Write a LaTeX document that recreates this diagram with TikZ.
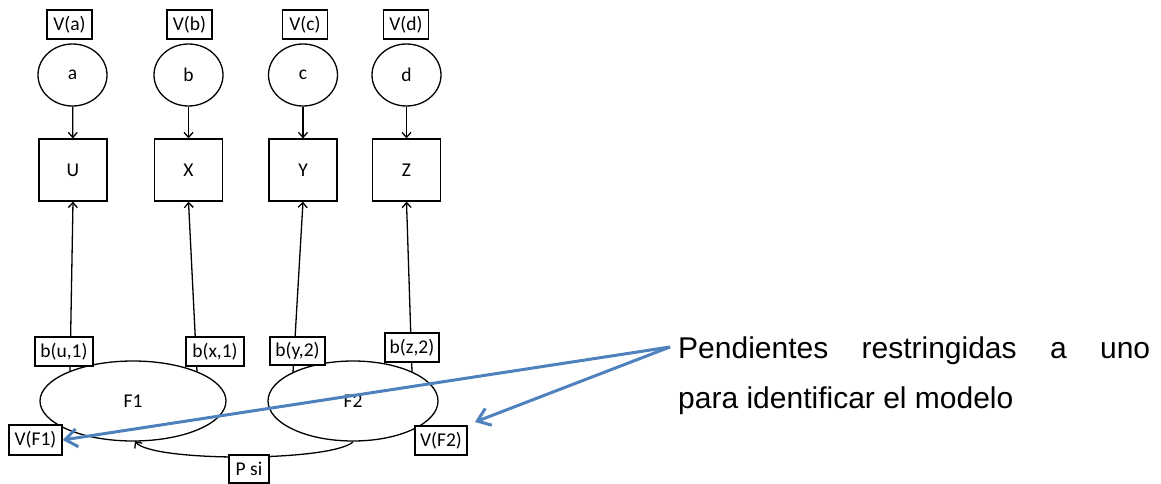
\documentclass[tikz,border=0pt]{standalone}
\usepackage{fontspec}
\setmainfont{Carlito}
\newfontfamily\notefont{Liberation Sans}
\usetikzlibrary{shapes.geometric,arrows.meta}
\definecolor{noteblue}{HTML}{4F81BD}
\begin{document}
\begin{tikzpicture}[x=1pt,y=-1pt,
  every node/.style={font=\fontsize{19.5}{21}\selectfont},
  lbl/.style={draw,line width=1.3pt,fill=white,inner sep=0pt},
  latent/.style={draw,line width=1.3pt,ellipse,inner sep=0pt},
  observed/.style={draw,line width=1.3pt,rectangle,minimum width=68pt,minimum height=62pt,inner sep=0pt},
  path/.style={line width=1.3pt,-{Straight Barb[length=5pt,width=9pt]}},
  note/.style={noteblue,line width=3pt,-{Straight Barb[length=12pt,width=18pt]}}]
\useasboundingbox (0,0) rectangle (1161,484);

% variance labels of the error terms
\node[lbl,minimum width=45pt,minimum height=29pt] (va) at (69.5,24.5) {V(a)};
\node[lbl,minimum width=45pt,minimum height=29pt] (vb) at (189.5,24.5) {V(b)};
\node[lbl,minimum width=45pt,minimum height=29pt] (vc) at (305,24.5) {V(c)};
\node[lbl,minimum width=45pt,minimum height=29pt] (vd) at (406,24.5) {V(d)};

% error terms
\node[latent,minimum width=69pt,minimum height=62pt] (a) at (72.5,75) {a};
\node[latent,minimum width=69pt,minimum height=62pt] (b) at (188.5,75) {b};
\node[latent,minimum width=69pt,minimum height=62pt] (c) at (303,75) {c};
\node[latent,minimum width=69pt,minimum height=62pt] (d) at (406.5,75) {d};

% observed indicators
\node[observed] (U) at (73,170) {U};
\node[observed] (X) at (188.5,170) {X};
\node[observed] (Y) at (303,170) {Y};
\node[observed] (Z) at (406.5,170) {Z};

\draw[path] (a) -- (U);
\draw[path] (b) -- (X);
\draw[path] (c) -- (Y);
\draw[path] (d) -- (Z);

% factors
\node[latent,minimum width=186pt,minimum height=80pt] (F1) at (133,401) {F1};
\node[latent,minimum width=170pt,minimum height=80pt] (F2) at (353,401) {F2};

% loading start points on the factor borders
\coordinate (fu) at (70,372);
\coordinate (fx) at (197,372);
\coordinate (fy) at (293,372.7);
\coordinate (fz) at (412,372);

\draw[path] (fu) -- (U.south);
\draw[path] (fx) -- (X.south);
\draw[path] (fy) -- (Y.south);
\draw[path] (fz) -- (Z.south);

% factor covariance
\coordinate (p1) at (135,441);
\coordinate (p2) at (353,442);
\draw[line width=1.3pt,{Straight Barb[length=5pt,width=9pt]}-] (p1) .. controls (150,462) and (330,462) .. (p2);

% loading labels
\node[lbl,minimum width=58pt,minimum height=29pt] (bu) at (64,351.5) {b(u,1)};
\node[lbl,minimum width=58pt,minimum height=29pt] (bx) at (215,351.5) {b(x,1)};
\node[lbl,minimum width=55pt,minimum height=28pt] (by) at (297.5,351) {b(y,2)};
\node[lbl,minimum width=54pt,minimum height=29pt] (bz) at (412,347.5) {b(z,2)};

% factor variances and covariance label
\node[lbl,minimum width=53pt,minimum height=30pt] (vf1) at (35.5,440) {V(F1)};
\node[lbl,minimum width=52pt,minimum height=29pt] (vf2) at (441,440.5) {V(F2)};
\node[lbl,minimum width=40pt,minimum height=28pt] (psi) at (249,469) {P si};

% annotation
\node[anchor=base west,inner sep=0pt,font=\notefont\fontsize{30}{50}\selectfont] (txt) at (678,358)
  {\begin{tabular}[t]{@{}l@{}}\makebox[472pt][s]{Pendientes restringidas a uno}\\para identificar el modelo\end{tabular}};
\coordinate (src) at (670,347);
\coordinate (tip2) at (475,422);
\draw[note] (src) -- (vf1.east);
\draw[note] (src) -- (tip2);
\end{tikzpicture}
\end{document}
